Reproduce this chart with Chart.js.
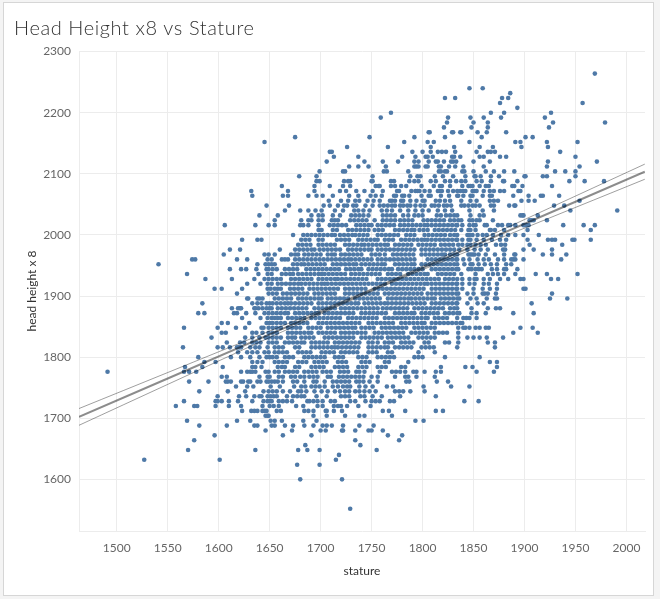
<!DOCTYPE html>
<html>
<head>
<meta charset="utf-8">
<script src="https://cdn.jsdelivr.net/npm/chart.js@4.4.1/dist/chart.umd.min.js"></script>
<style>
html,body{margin:0;padding:0;width:660px;height:599px;overflow:hidden;background:#f4f4f4;}
#frame{position:absolute;left:3px;top:2px;width:651px;height:594px;box-sizing:border-box;background:#fff;border:1px solid #d6d6d6;}
#title{position:absolute;left:14px;top:17px;font-family:Lato,sans-serif;font-weight:300;font-size:20px;line-height:20px;letter-spacing:0.6px;color:#333;white-space:nowrap;z-index:2;}
#c{position:absolute;left:0;top:0;z-index:1;}
</style>
</head>
<body>
<div id="frame"></div>
<canvas id="c" width="660" height="599"></canvas>
<div id="title">Head Height x8 vs Stature</div>
<script>
// head height x 8 (rows), stature values per row
const headRows = [2264,2240,2232,2224,2216,2208,2200,2192,2184,2176,
2168,2160,2152,2144,2136,2128,2120,2112,2104,2096,
2088,2080,2072,2064,2056,2048,2040,2032,2024,2016,
2008,2000,1992,1984,1976,1968,1960,1952,1944,1936,
1928,1920,1912,1904,1896,1888,1880,1872,1864,1856,
1848,1840,1832,1824,1816,1808,1800,1792,1784,1776,
1768,1760,1752,1744,1736,1728,1720,1712,1704,1696,
1688,1680,1672,1664,1656,1648,1640,1632,1624,1600,1552];

const statureByRow = [
/*2264*/[1969],
/*2240*/[1846,1859],
/*2232*/[1886],
/*2224*/[1822,1832,1878,1884],
/*2216*/[1876,1957],
/*2208*/[1893],
/*2200*/[1769,1867,1880,1926],
/*2192*/[1759,1825,1847,1860,1877,1920],
/*2184*/[1824,1850,1864,1928,1979],
/*2176*/[1821,1848,1864,1924],
/*2168*/[1806,1807,1829,1830,1837,1838,1854,1863,1882],
/*2160*/[1675,1748,1792,1822,1858,1901,1908],
/*2152*/[1645,1782,1805,1811,1846,1891,1896,1922,1952],
/*2144*/[1726,1766,1808,1831,1856,1869,1897,1923],
/*2136*/[1709,1711,1790,1800,1808,1815,1819,1823,1832,1853,1864,1867,1871,1935],
/*2128*/[1713,1737,1780,1793,1803,1805,1810,1829,1831,1837,1856,1860,1876,1882,1950],
/*2120*/[1706,1743,1761,1776,1792,1796,1806,1813,1815,1821,1828,1830,1833,1850,1866,1923,1971],
/*2112*/[1728,1737,1747,1764,1792,1794,1796,1803,1805,1816,1818,1826,1832,1840,1860,1922,1954],
/*2104*/[1699,1722,1724,1762,1765,1786,1816,1818,1822,1824,1839,1841,1850,1862,1870,1880,1890,1930,1940,1950],
/*2096*/[1679,1696,1751,1788,1795,1798,1812,1820,1830,1842,1851,1852,1857,1867,1875,1900,1901,1918,1922,1950],
/*2088*/[1696,1699,1723,1727,1729,1750,1751,1769,1772,1787,1792,1796,1808,1813,1822,1827,1833,1838,1842,1853,1858,1867,1879,1880,1893,1944,1959,1978],
/*2080*/[1662,1694,1709,1722,1729,1754,1757,1758,1769,1773,1779,1784,1799,1811,1817,1819,1827,1839,1845,1847,1849,1856,1862,1865,1888,1890,1898,1927],
/*2072*/[1632,1668,1694,1719,1725,1735,1743,1751,1761,1775,1777,1789,1793,1795,1797,1802,1807,1815,1817,1819,1825,1830,1834,1837,1840,1842,1849,1851,1853,1860,1866,1870,1876,1880,1894,1896],
/*2064*/[1633,1663,1668,1688,1696,1702,1712,1728,1737,1749,1754,1760,1772,1774,1780,1782,1787,1799,1806,1808,1818,1826,1834,1835,1840,1847,1849,1859,1866,1868,1889,1904,1916,1918,1934],
/*2056*/[1708,1720,1727,1734,1738,1746,1752,1758,1768,1770,1773,1779,1781,1788,1794,1800,1802,1813,1817,1822,1827,1838,1847,1853,1866,1870,1874,1897,1904,1910,1954],
/*2048*/[1647,1669,1703,1709,1717,1723,1726,1732,1735,1744,1751,1758,1762,1766,1770,1773,1778,1781,1785,1788,1793,1798,1802,1809,1812,1816,1821,1824,1828,1838,1841,1845,1849,1852,1856,1867,1870,1885,1890,1891,1929,1939],
/*2040*/[1665,1680,1688,1695,1701,1714,1722,1733,1737,1742,1748,1760,1765,1770,1778,1786,1793,1800,1806,1815,1822,1829,1846,1859,1870,1945,1991],
/*2032*/[1640,1658,1691,1698,1702,1712,1719,1730,1734,1738,1742,1747,1761,1765,1769,1773,1781,1786,1792,1796,1800,1814,1818,1823,1827,1831,1834,1847,1856,1860,1896,1898,1899,1913],
/*2024*/[1655,1681,1688,1691,1698,1702,1711,1714,1717,1729,1733,1737,1741,1745,1753,1761,1765,1769,1773,1778,1782,1786,1790,1801,1805,1809,1813,1817,1821,1827,1831,1835,1838,1846,1849,1853,1856,1869,1905,1907,1909,1922],
/*2016*/[1606,1636,1649,1655,1680,1683,1688,1698,1709,1713,1717,1721,1725,1735,1739,1743,1747,1750,1756,1760,1764,1768,1772,1778,1782,1786,1790,1794,1798,1802,1805,1809,1813,1817,1821,1825,1829,1833,1834,1839,1846,1850,1852,1861,1863,1874,1878,1884,1886,1891,1899,1902,1904,1938,1958,1969],
/*2008*/[1698,1701,1712,1716,1727,1731,1735,1739,1743,1747,1753,1757,1761,1773,1777,1781,1785,1789,1792,1797,1801,1805,1812,1816,1820,1824,1828,1832,1838,1845,1847,1852,1866,1867,1871,1880,1903,1965],
/*2000*/[1673,1683,1687,1691,1695,1699,1703,1707,1711,1714,1719,1723,1727,1731,1734,1738,1742,1746,1756,1760,1764,1768,1772,1776,1784,1788,1792,1802,1806,1810,1814,1818,1822,1827,1831,1834,1844,1846,1849,1854,1859,1863,1869,1877,1884,1891,1899,1914],
/*1992*/[1623,1638,1642,1681,1685,1689,1698,1702,1716,1720,1724,1728,1737,1741,1745,1749,1753,1756,1763,1767,1771,1779,1783,1787,1791,1795,1799,1802,1805,1809,1813,1817,1821,1825,1829,1833,1834,1839,1845,1847,1853,1860,1868,1876,1882,1903,1923,1927,1930,1947,1949,1965],
/*1984*/[1678,1682,1686,1690,1698,1702,1706,1710,1714,1724,1728,1732,1736,1740,1743,1747,1751,1755,1759,1763,1766,1773,1777,1781,1785,1789,1796,1800,1804,1808,1812,1818,1822,1826,1830,1835,1839,1844,1847,1852,1857,1862,1872,1877,1881,1905,1937],
/*1976*/[1611,1621,1660,1675,1679,1683,1687,1691,1694,1699,1703,1707,1711,1715,1719,1727,1731,1735,1739,1743,1747,1750,1756,1760,1764,1768,1772,1776,1780,1784,1788,1792,1799,1803,1807,1811,1815,1819,1823,1827,1831,1836,1844,1851,1857,1864,1879,1881,1899,1909,1927],
/*1968*/[1605,1645,1649,1655,1671,1675,1678,1684,1688,1692,1696,1700,1707,1711,1714,1720,1724,1728,1732,1736,1740,1750,1754,1758,1763,1771,1775,1779,1783,1787,1791,1799,1803,1807,1811,1815,1819,1822,1827,1831,1834,1845,1847,1849,1851,1855,1862,1871,1880,1890,1891,1918,1927,1941],
/*1960*/[1574,1577,1618,1628,1648,1652,1662,1665,1668,1675,1679,1683,1687,1691,1695,1699,1703,1707,1711,1715,1719,1723,1727,1730,1734,1738,1742,1746,1750,1756,1760,1764,1768,1772,1776,1780,1784,1788,1792,1805,1809,1813,1817,1821,1825,1829,1833,1834,1840,1846,1854,1860,1865,1874,1880,1887,1889,1891,1899,1936],
/*1952*/[1541,1638,1646,1649,1652,1655,1673,1677,1681,1684,1688,1692,1696,1700,1704,1712,1716,1720,1724,1728,1732,1735,1740,1744,1748,1752,1756,1760,1763,1773,1777,1781,1785,1789,1792,1799,1803,1807,1811,1815,1819,1823,1827,1831,1834,1841,1847,1849,1855,1861,1867,1873,1882,1887],
/*1944*/[1611,1622,1627,1637,1647,1649,1653,1657,1665,1669,1673,1677,1686,1690,1694,1698,1702,1706,1710,1714,1718,1725,1729,1733,1737,1740,1747,1751,1755,1759,1763,1767,1770,1776,1780,1784,1788,1792,1796,1800,1809,1813,1817,1821,1825,1829,1833,1835,1845,1848,1852,1855,1858,1868,1873,1880,1882,1893],
/*1936*/[1569,1639,1648,1652,1662,1666,1670,1673,1678,1682,1686,1690,1694,1698,1701,1704,1708,1712,1716,1720,1724,1730,1734,1738,1742,1746,1750,1754,1758,1766,1770,1774,1778,1786,1790,1794,1798,1802,1805,1815,1819,1823,1827,1831,1838,1852,1864,1869,1874,1880,1891,1911,1922,1952],
/*1928*/[1587,1613,1635,1645,1649,1653,1657,1661,1671,1675,1679,1683,1687,1691,1698,1702,1706,1710,1714,1717,1721,1725,1729,1733,1737,1741,1745,1756,1760,1764,1768,1772,1776,1780,1784,1788,1792,1796,1800,1804,1808,1812,1816,1822,1826,1830,1834,1839,1846,1851,1853,1860,1866,1876,1884,1896,1899,1926,1933],
/*1920*/[1628,1641,1648,1652,1658,1662,1666,1670,1674,1678,1681,1685,1689,1693,1697,1701,1704,1707,1711,1715,1719,1723,1727,1731,1735,1739,1743,1747,1751,1755,1759,1763,1770,1774,1778,1782,1786,1790,1794,1798,1802,1805,1809,1813,1817,1821,1825,1829,1833,1834,1839,1846,1851,1860,1865,1873],
/*1912*/[1596,1603,1623,1648,1651,1655,1658,1661,1670,1674,1678,1682,1689,1693,1697,1701,1705,1709,1713,1717,1724,1728,1732,1736,1740,1744,1753,1757,1761,1765,1769,1773,1777,1781,1785,1789,1793,1797,1801,1809,1813,1817,1821,1825,1829,1833,1834,1839,1850,1859,1866,1873,1899,1901],
/*1904*/[1618,1649,1653,1657,1663,1667,1671,1675,1679,1683,1687,1694,1698,1702,1706,1710,1714,1724,1728,1732,1736,1740,1744,1748,1752,1756,1763,1767,1771,1775,1779,1783,1787,1791,1795,1799,1805,1809,1813,1817,1821,1825,1829,1833,1835,1844,1850,1859,1861,1864,1872,1927],
/*1896*/[1628,1629,1638,1640,1643,1655,1659,1663,1667,1671,1678,1682,1686,1690,1694,1698,1701,1707,1711,1715,1719,1723,1727,1734,1738,1742,1746,1750,1754,1758,1766,1770,1774,1778,1782,1786,1789,1793,1797,1801,1805,1809,1812,1818,1822,1826,1830,1834,1836,1847,1853,1863,1871,1873,1925,1942],
/*1888*/[1584,1633,1638,1642,1647,1650,1653,1657,1661,1665,1668,1671,1675,1679,1683,1687,1691,1698,1702,1706,1710,1714,1718,1722,1726,1730,1734,1737,1743,1747,1751,1755,1759,1763,1766,1770,1774,1778,1782,1786,1790,1794,1798,1802,1809,1813,1817,1821,1825,1829,1833,1834,1844,1854,1860,1907],
/*1880*/[1613,1619,1621,1622,1635,1636,1639,1643,1647,1650,1652,1658,1662,1666,1670,1674,1678,1682,1686,1694,1698,1702,1706,1710,1714,1720,1724,1728,1732,1736,1740,1744,1748,1752,1756,1761,1765,1769,1773,1777,1781,1785,1792,1796,1800,1804,1808,1812,1816,1820,1827,1831,1834,1848,1864,1872,1876],
/*1872*/[1580,1586,1615,1618,1627,1636,1645,1649,1653,1657,1661,1665,1668,1675,1679,1683,1687,1691,1695,1698,1704,1708,1712,1716,1720,1724,1728,1732,1740,1744,1748,1752,1756,1760,1764,1773,1777,1781,1785,1789,1792,1799,1803,1807,1811,1815,1822,1826,1830,1834,1836,1848,1853,1862,1889,1909],
/*1864*/[1623,1641,1648,1652,1655,1658,1661,1668,1672,1676,1680,1684,1691,1695,1699,1703,1707,1711,1715,1719,1727,1731,1735,1739,1743,1747,1751,1755,1763,1767,1771,1775,1779,1783,1787,1791,1795,1799,1803,1805,1812,1816,1820,1824,1834,1840,1843,1846,1853],
/*1856*/[1603,1609,1630,1647,1650,1653,1657,1661,1665,1671,1675,1679,1683,1687,1698,1702,1706,1710,1714,1718,1722,1726,1730,1734,1738,1747,1751,1755,1759,1763,1767,1771,1779,1783,1787,1791,1795,1799,1802,1809,1813,1817,1821,1825,1829,1833,1837,1839],
/*1848*/[1566,1599,1617,1626,1642,1644,1649,1653,1657,1661,1668,1672,1676,1680,1688,1692,1696,1700,1707,1711,1715,1719,1723,1727,1731,1734,1740,1744,1748,1752,1760,1764,1768,1772,1776,1780,1784,1792,1796,1800,1804,1808,1812,1835,1840,1842,1846,1852,1856,1862,1865,1896,1908],
/*1840*/[1603,1607,1633,1637,1643,1649,1653,1657,1668,1672,1676,1680,1684,1688,1691,1698,1702,1706,1710,1714,1720,1724,1728,1732,1736,1740,1744,1753,1757,1761,1765,1769,1773,1777,1781,1789,1793,1797,1801,1805,1812,1816,1820,1824,1835,1889,1913],
/*1832*/[1593,1626,1633,1640,1646,1649,1653,1657,1661,1668,1672,1675,1681,1685,1689,1693,1704,1708,1712,1716,1720,1724,1728,1732,1740,1744,1748,1752,1756,1760,1766,1770,1774,1778,1782,1786,1796,1800,1804,1808,1812,1835,1844,1850,1856,1863,1879],
/*1824*/[1608,1621,1625,1633,1637,1641,1649,1653,1657,1665,1669,1673,1677,1681,1684,1691,1695,1699,1703,1707,1714,1718,1722,1726,1730,1734,1738,1747,1751,1756,1763,1767,1771,1779,1783,1787,1791,1802,1806,1822,1826,1835,1864,1871],
/*1816*/[1565,1599,1604,1611,1618,1620,1622,1631,1636,1640,1648,1655,1659,1663,1675,1679,1691,1695,1699,1703,1707,1711,1714,1717,1721,1725,1729,1733,1737,1747,1751,1755,1759,1763,1766,1773,1777,1781,1785,1789,1799,1803,1807,1811,1834,1871],
/*1808*/[1619,1628,1633,1638,1645,1649,1655,1659,1663,1667,1678,1682,1686,1690,1701,1705,1709,1713,1720,1724,1728,1732,1736,1747,1751,1755,1766,1770,1796,1812],
/*1800*/[1580,1612,1622,1631,1640,1647,1650,1653,1657,1665,1669,1673,1684,1688,1692,1696,1700,1704,1714,1718,1722,1737,1741,1745,1756,1760,1764,1768,1772,1792,1796,1800,1822,1856],
/*1792*/[1586,1597,1633,1638,1643,1655,1659,1663,1667,1678,1682,1686,1694,1698,1702,1706,1717,1721,1725,1740,1744,1748,1763,1767,1786,1866,1873],
/*1784*/[1567,1584,1604,1633,1636,1642,1658,1662,1665,1675,1679,1691,1695,1699,1703,1714,1718,1722,1726,1737,1741,1745,1756,1760,1764,1779,1783,1818,1842,1849,1873],
/*1776*/[1491,1566,1571,1578,1622,1628,1631,1633,1636,1646,1649,1655,1659,1665,1669,1673,1677,1684,1688,1692,1696,1702,1706,1710,1719,1723,1727,1735,1738,1743,1758,1770,1774,1778,1783,1791,1794,1802,1813,1818,1853,1870],
/*1768*/[1603,1608,1640,1648,1650,1659,1663,1671,1675,1680,1684,1689,1693,1697,1707,1710,1718,1722,1726,1730,1734,1738,1742,1750,1756,1773,1783,1786,1794,1812],
/*1760*/[1571,1590,1607,1609,1612,1622,1624,1629,1631,1638,1641,1647,1649,1652,1655,1658,1663,1673,1677,1684,1693,1696,1704,1712,1716,1720,1724,1728,1735,1738,1742,1748,1756,1784,1787,1814,1825],
/*1752*/[1617,1628,1634,1651,1660,1674,1681,1685,1691,1695,1699,1704,1712,1717,1722,1726,1729,1738,1744,1751,1765,1771,1801,1828,1846],
/*1744*/[1581,1609,1626,1644,1649,1653,1657,1663,1670,1678,1681,1686,1694,1701,1707,1714,1719,1724,1728,1734,1738,1743,1748,1754,1773,1777,1781,1788,1802],
/*1736*/[1599,1620,1627,1635,1640,1642,1648,1651,1654,1657,1667,1673,1677,1681,1684,1696,1706,1720,1724,1728,1739,1743,1751,1760,1778,1813],
/*1728*/[1566,1597,1599,1603,1610,1619,1633,1644,1648,1650,1652,1659,1663,1667,1672,1687,1689,1693,1697,1702,1710,1714,1729,1734,1744,1750,1754,1758,1768,1772,1841,1855],
/*1720*/[1558,1576,1579,1597,1610,1622,1643,1650,1654,1659,1676,1683,1697,1702,1713,1717,1720,1726,1737,1749],
/*1712*/[1623,1632,1635,1638,1643,1645,1647,1657,1661,1684,1688,1693,1705,1706,1713,1721,1761,1767,1783,1813,1820],
/*1704*/[1646,1648,1649,1693,1706,1724,1738,1743,1770],
/*1696*/[1569,1618,1631,1651,1655,1662,1683,1696,1793,1801],
/*1688*/[1581,1608,1635,1638,1652,1655,1665,1673,1684,1693,1702,1706,1711,1722,1738,1752],
/*1680*/[1646,1672,1700,1705,1721,1722,1734,1747,1750,1761],
/*1672*/[1596,1663,1691,1766,1780],
/*1664*/[1576,1734,1777],
/*1656*/[1685,1739],
/*1648*/[1570,1636,1678,1687,1699,1755],
/*1640*/[1718],
/*1632*/[1527,1601,1715],
/*1624*/[1677,1699],
/*1600*/[1680,1721],
/*1552*/[1729]
];

// linear trend with confidence band
const trendStature = [1463, 1550, 1650, 1700, 1755, 1810, 1850, 1950, 2018];
const trendFit     = [1702.2, 1765.1, 1837.4, 1873.5, 1913.3, 1953.1, 1982.0, 2054.3, 2103.5];
const trendUpper   = [1715.9, 1774.8, 1842.7, 1876.7, 1915.3, 1956.3, 1986.8, 2063.6, 2115.9];
const trendLower   = [1688.5, 1755.4, 1832.1, 1870.3, 1911.3, 1949.9, 1977.2, 2045.0, 2091.1];

const xTicks = [1500, 1550, 1600, 1650, 1700, 1750, 1800, 1850, 1900, 1950, 2000];
const yTicks = [1600, 1700, 1800, 1900, 2000, 2100, 2200, 2300];

if (headRows.length !== statureByRow.length) console.error('row mismatch', headRows.length, statureByRow.length);

const pts = [];
headRows.forEach((h, i) => (statureByRow[i] || []).forEach(s => pts.push({x: s, y: h})));
const toXY = arr => trendStature.map((s, i) => ({x: s, y: arr[i]}));

Chart.defaults.font.family = 'Lato, sans-serif';
Chart.defaults.font.size = 12;

const gridColor = '#ececec';
new Chart(document.getElementById('c'), {
  type: 'scatter',
  data: {
    datasets: [
      {data: pts, backgroundColor: '#4e79a7', borderWidth: 0, pointRadius: 2.3, pointHoverRadius: 2.3, order: 3},
      {type: 'line', data: toXY(trendUpper), borderColor: 'rgba(0,0,0,0.38)', borderWidth: 1, pointRadius: 0, tension: 0.35, fill: false, order: 1},
      {type: 'line', data: toXY(trendLower), borderColor: 'rgba(0,0,0,0.38)', borderWidth: 1, pointRadius: 0, tension: 0.35, fill: false, order: 1},
      {type: 'line', data: toXY(trendFit), borderColor: 'rgba(0,0,0,0.45)', borderWidth: 2, pointRadius: 0, tension: 0, fill: false, order: 1}
    ]
  },
  options: {
    responsive: false,
    animation: false,
    layout: {padding: {left: 25, top: 51, right: 15, bottom: 21}},
    plugins: {legend: {display: false}, tooltip: {enabled: false}},
    events: [],
    scales: {
      x: {
        type: 'linear', min: 1463, max: 2018.2,
        afterFit: s => { s.height = 47; },
        afterBuildTicks: s => { s.ticks = xTicks.map(v => ({value: v})); },
        grid: {color: gridColor, drawTicks: false},
        border: {color: gridColor},
        ticks: {color: '#666', padding: 10, callback: v => String(v), autoSkip: false, maxRotation: 0},
        title: {display: true, text: 'stature', color: '#333', padding: {top: 0, bottom: 0}, font: {size: 12}}
      },
      y: {
        type: 'linear', min: 1515.5, max: 2301,
        afterFit: s => { s.width = 54; },
        afterBuildTicks: s => { s.ticks = yTicks.map(v => ({value: v})); },
        grid: {color: gridColor, drawTicks: false},
        border: {color: gridColor},
        ticks: {color: '#666', padding: 8, callback: v => String(v)},
        title: {display: true, text: 'head height x 8', color: '#333', padding: {top: 0, bottom: 0}, font: {size: 12}}
      }
    }
  }
});
</script>
</body>
</html>
